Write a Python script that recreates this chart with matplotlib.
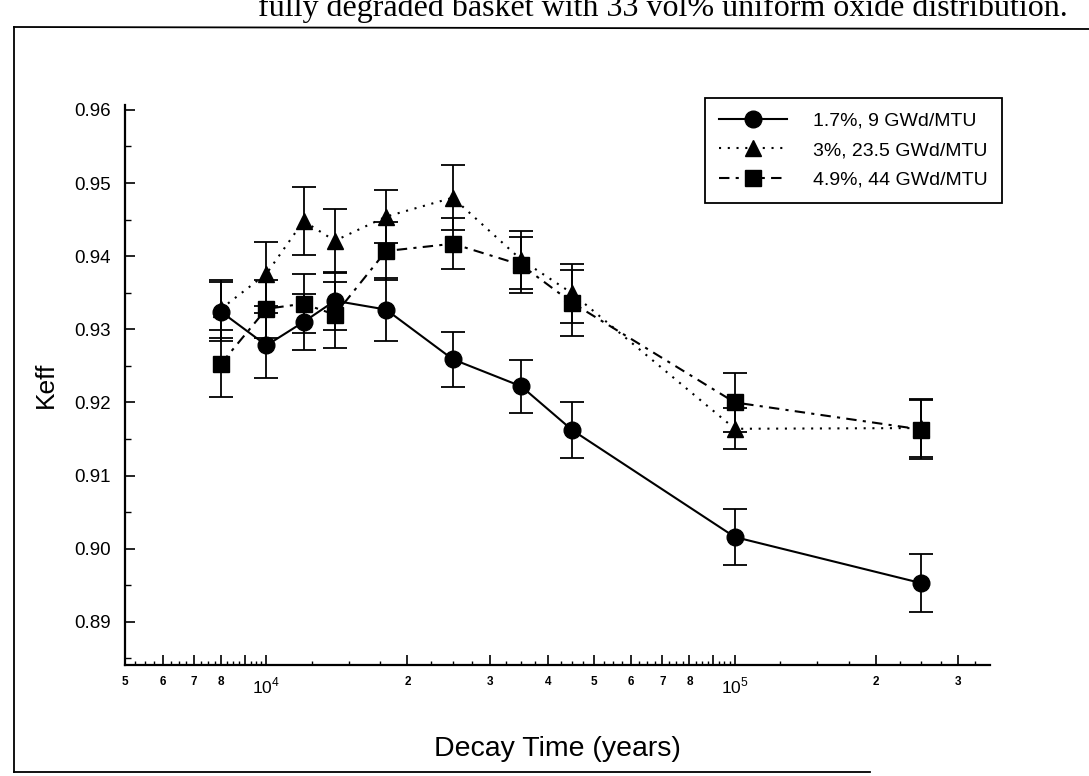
import matplotlib
matplotlib.use("Agg")
import matplotlib.pyplot as plt
from matplotlib.lines import Line2D
from matplotlib.ticker import FixedLocator

plt.rcParams['font.family'] = ['Liberation Sans', 'DejaVu Sans']
plt.rcParams['mathtext.fontset'] = 'custom'
plt.rcParams['mathtext.rm'] = 'Liberation Sans'

# decay time (years) and Keff values
time = [8000, 10000, 12000, 14000, 18000, 25000, 35000, 45000, 100000, 250000]

keff_a = [0.9324, 0.9278, 0.9310, 0.9339, 0.9327, 0.9259, 0.9222, 0.9162, 0.9016, 0.8953]
err_a = [0.0040, 0.0044, 0.0038, 0.0040, 0.0043, 0.0038, 0.0036, 0.0038, 0.0038, 0.0040]

keff_b = [0.9328, 0.9376, 0.9448, 0.9421, 0.9454, 0.9480, 0.9395, 0.9349, 0.9164, 0.9165]
err_b = [0.0040, 0.0044, 0.0046, 0.0044, 0.0036, 0.0044, 0.0040, 0.0040, 0.0028, 0.0040]

keff_c = [0.9253, 0.9328, 0.9335, 0.9320, 0.9407, 0.9417, 0.9388, 0.9336, 0.9200, 0.9163]
err_c = [0.0046, 0.0040, 0.0040, 0.0045, 0.0040, 0.0035, 0.0038, 0.0045, 0.0040, 0.0040]

labels = ['1.7%, 9 GWd/MTU', '3%, 23.5 GWd/MTU', '4.9%, 44 GWd/MTU']

tick_vals = [5e3, 6e3, 7e3, 8e3, 9e3, 1e4, 2e4, 3e4, 4e4, 5e4, 6e4, 7e4, 8e4, 9e4, 1e5, 2e5, 3e5]
tick_text = ['5', '6', '7', '8', '', r'$10^4$', '2', '3', '4', '5', '6', '7', '8', '', r'$10^5$', '2', '3']

fig = plt.figure(figsize=(10.89, 7.76), dpi=100)
ax = fig.add_axes([0.1148, 0.143, 0.794, 0.722])

series = [
    (keff_a, err_a, 'o', '-', 12),
    (keff_b, err_b, '^', (0, (1, 3.2)), 11),
    (keff_c, err_c, 's', (0, (5, 3, 1.5, 3)), 12),
]
handles = []
for (k, e, m, ls, ms), lab in zip(series, labels):
    ax.errorbar(time, k, yerr=e, fmt='none', ecolor='black', elinewidth=1.3,
                capsize=8.5, capthick=1.3)
    h, = ax.plot(time, k, color='black', marker=m, markersize=ms, linestyle=ls,
                 linewidth=1.5, label=lab)
    handles.append(h)

ax.set_xscale('log')
ax.set_xlim(4990, 350000)
ax.set_ylim(0.8841, 0.9607)

ax.xaxis.set_major_locator(FixedLocator(tick_vals))
ax.set_xticks(tick_vals, tick_text)
minor = []
for dec in [1e3, 1e4, 1e5]:
    for q in range(4, 40):
        v = dec * q * 0.25
        if 4990 < v < 350000 and v not in tick_vals:
            minor.append(v)
ax.xaxis.set_minor_locator(FixedLocator(minor))
ax.xaxis.set_minor_formatter(plt.NullFormatter())
for t in ax.get_xticklabels():
    if '10' in t.get_text():
        t.set_fontsize(12.5)
    else:
        t.set_fontsize(8.5)
        t.set_fontweight('bold')

ax.set_yticks([0.89, 0.90, 0.91, 0.92, 0.93, 0.94, 0.95, 0.96])
ax.set_yticks([0.885, 0.895, 0.905, 0.915, 0.925, 0.935, 0.945, 0.955], minor=True)
ax.set_yticklabels(['0.89', '0.90', '0.91', '0.92', '0.93', '0.94', '0.95', '0.96'])
ax.tick_params(axis='y', which='major', direction='in', length=7, width=1.2, labelsize=13.5, pad=10)
ax.tick_params(axis='y', which='minor', direction='in', length=4, width=1.0)
ax.tick_params(axis='x', which='major', direction='in', length=7, width=1.2, pad=8)
ax.tick_params(axis='x', which='minor', direction='in', length=3, width=1.0)

for s in ['top', 'right']:
    ax.spines[s].set_visible(False)
for s in ['left', 'bottom']:
    ax.spines[s].set_linewidth(1.6)

ax.set_xlabel('Decay Time (years)', fontsize=20.5, labelpad=28)
ax.set_ylabel('Keff', fontsize=19, labelpad=12)

leg = ax.legend(handles=handles, loc='upper right', bbox_to_anchor=(0.920, 0.874),
                bbox_transform=fig.transFigure, borderaxespad=0, fontsize=14,
                handlelength=3.5, handletextpad=1.3, borderpad=0.75, labelspacing=0.6,
                fancybox=False, framealpha=1, edgecolor='black', numpoints=1)
leg.get_frame().set_linewidth(1.3)

# scanned page frame and the cut-off caption above it
fig.add_artist(Line2D([14 / 1089, 14 / 1089], [1 - 27 / 776, 1 - 772 / 776], color='black', lw=1.3))
fig.add_artist(Line2D([14 / 1089, 1.0], [1 - 27 / 776, 1 - 29 / 776], color='black', lw=1.3))
fig.add_artist(Line2D([14 / 1089, 870 / 1089], [1 - 772 / 776, 1 - 772 / 776], color='black', lw=1.3))
fig.text(258 / 1089, 1 - 16 / 776, 'fully degraded basket with 33 vol% uniform oxide distribution.',
         family='Liberation Serif', fontsize=23, ha='left', va='baseline')

fig.savefig('out.png', dpi=100)
